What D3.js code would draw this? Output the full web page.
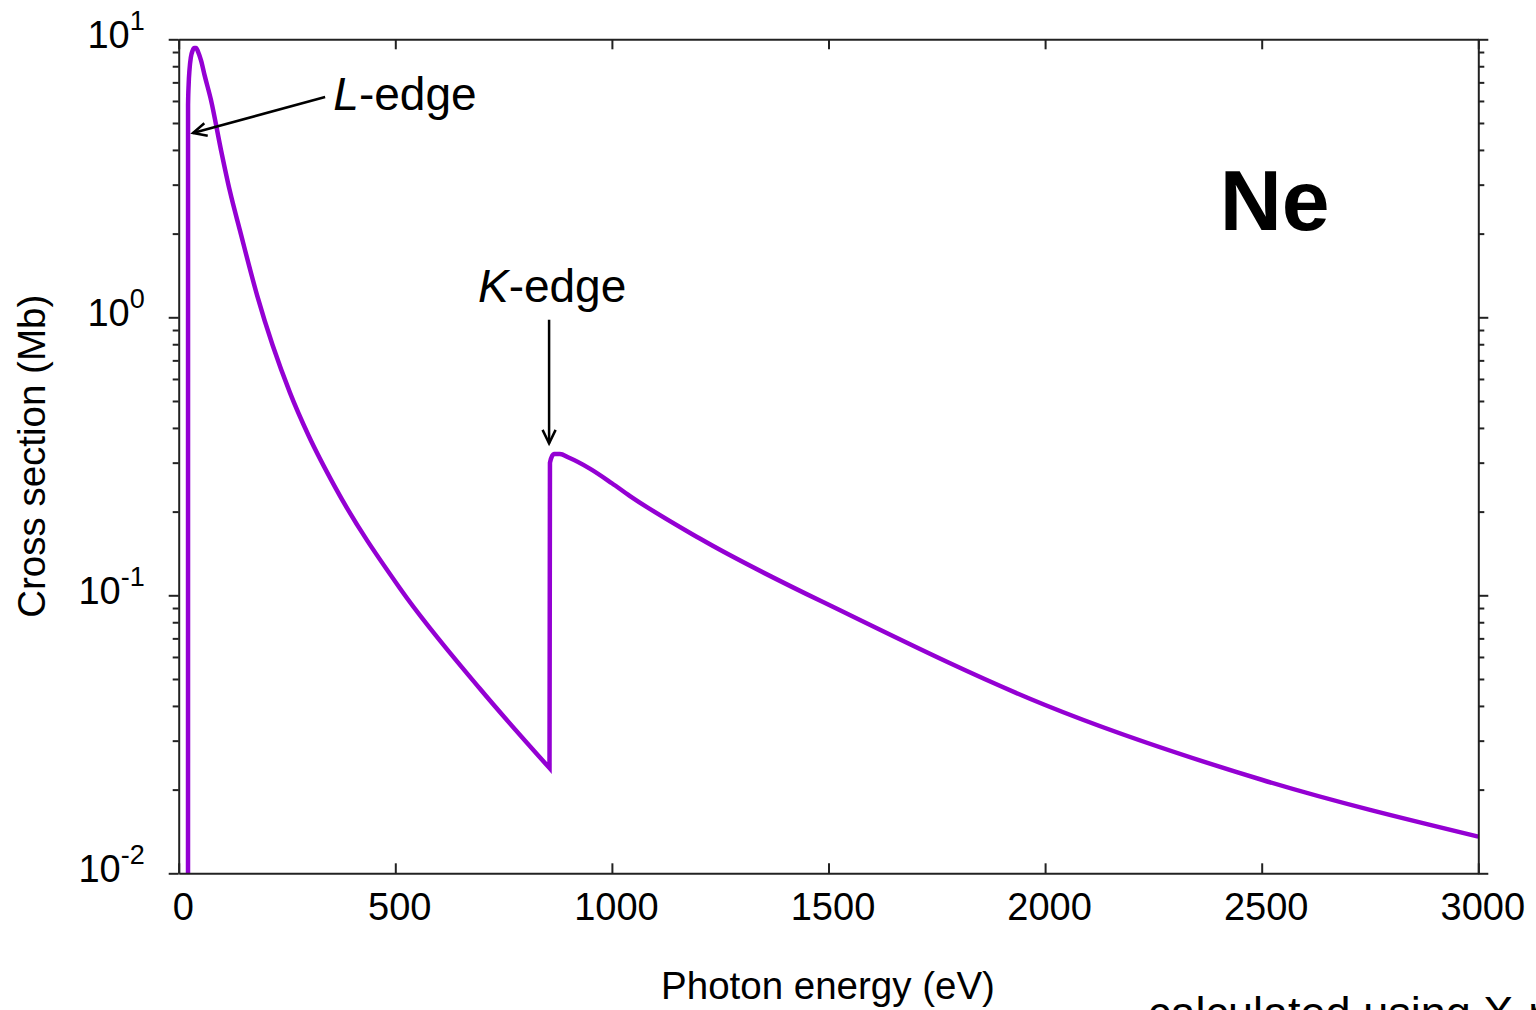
<!DOCTYPE html>
<html lang="en">
<head>
    <meta charset="UTF-8">
    <title>Ne cross section</title>
    <style>
body {
    margin: 0;
    background-color: white;
    overflow: hidden;
}

svg text {
    font-family: "Liberation Sans", Arial, Helvetica, sans-serif;
    fill: black;
}

.axis path,
.axis line {
    stroke: #222;
    stroke-width: 2px;
}
    </style>
</head>
<body>
    <svg id="chart"></svg>
    <script src="https://d3js.org/d3.v7.min.js"></script>
    <script>
// photon energy (eV) and cross section (Mb)
// below the K-edge
const energyL = [21.5, 21.6, 23, 25, 28, 32, 36, 40, 45, 51.5, 60, 74.5, 97.6, 118, 141.5, 181, 257, 300, 361, 511, 695, 856];
const sigmaL = [0.008, 5.8, 6.9, 7.8, 8.6, 9.1, 9.3, 9.3, 9.0, 8.4, 7.4, 6.05, 4.0, 2.85, 2.05, 1.2, 0.535, 0.375, 0.245, 0.1058, 0.0462, 0.0239];
// from the K-edge up
const energyK = [856, 857, 866, 880, 900, 950, 1000, 1041, 1203, 1549, 2000, 2500, 3000];
const sigmaK = [0.0239, 0.30, 0.322, 0.322, 0.313, 0.285, 0.253, 0.228, 0.16, 0.0849, 0.0403, 0.0217, 0.01355];

const xTicks = [0, 500, 1000, 1500, 2000, 2500, 3000];
const yMajor = [0.01, 0.1, 1, 10];
const yExponents = ["-2", "-1", "0", "1"];

// annotations (data units)
const edges = [
    { name: "L", from: [338, 6.2], to: [33, 4.6], text: [357, 5.57], anchor: "start" },
    { name: "K", from: [855, 0.98], to: [855, 0.352], text: [862, 1.135], anchor: "middle" }
];

const W = 1536, H = 1010;
const svg = d3.select("#chart").attr("width", W).attr("height", H);

const x = d3.scaleLinear().domain([0, 3000]).range([178.7, 1478.3]);
const y = d3.scaleLog().domain([0.01, 10]).range([873.3, 39.3]);

// minor log ticks 2..9 per decade
const yMinor = [];
yMajor.slice(0, -1).forEach(d => { for (let k = 2; k <= 9; k++) yMinor.push(d * k); });

// clip
svg.append("defs").append("clipPath").attr("id", "plotclip")
    .append("rect")
    .attr("x", x(0)).attr("y", y(10))
    .attr("width", x(3000) - x(0)).attr("height", y(0.01) - y(10));

// curve, two smooth pieces joined at the K-edge minimum
const line = d3.line()
    .x(d => x(d[0]))
    .y(d => y(d[1]))
    .curve(d3.curveMonotoneX);
const partL = energyL.map((e, i) => [e, sigmaL[i]]);
const partK = energyK.map((e, i) => [e, sigmaK[i]]);

svg.append("path")
    .attr("clip-path", "url(#plotclip)")
    .attr("fill", "none")
    .attr("stroke", "#9400d3")
    .attr("stroke-width", 4.5)
    .attr("stroke-linejoin", "miter")
    .attr("d", line(partL) + line(partK).replace(/^M/, "L"));

// x axes (ticks inside)
const gBottom = svg.append("g").attr("class", "axis")
    .attr("transform", `translate(0,${y(0.01)})`)
    .call(d3.axisBottom(x).tickValues(xTicks).tickSizeInner(-10).tickSizeOuter(0).tickPadding(20).tickFormat(d3.format("d")));
gBottom.selectAll("text")
    .attr("dx", 4)
    .attr("font-size", 38)
    .style("font-family", "'Liberation Sans', Arial, sans-serif");

svg.append("g").attr("class", "axis")
    .attr("transform", `translate(0,${y(10)})`)
    .call(d3.axisTop(x).tickValues(xTicks).tickSizeInner(-10).tickSizeOuter(0).tickFormat(""));

// y axes (ticks outside)
function yAxes(axisFn, xpos, labels) {
    const g = svg.append("g").attr("class", "axis")
        .attr("transform", `translate(${xpos},0)`);
    g.call(axisFn(y).tickValues(yMajor).tickSize(10).tickSizeOuter(0).tickFormat(""));
    g.append("g").call(axisFn(y).tickValues(yMinor).tickSize(6).tickSizeOuter(0).tickFormat(""))
        .select(".domain").remove();
    if (labels) {
        yMajor.forEach((d, i) => {
            const t = g.append("text")
                .attr("x", -34)
                .attr("y", y(d) + 9)
                .attr("text-anchor", "end")
                .attr("font-size", 38)
                .style("font-family", "'Liberation Sans', Arial, sans-serif");
            t.append("tspan").text("10");
            t.append("tspan").attr("dy", -18).attr("font-size", 27).text(yExponents[i]);
        });
    }
}
yAxes(d3.axisLeft, x(0), true);
yAxes(d3.axisRight, x(3000), false);

// axis titles
svg.append("text")
    .attr("x", 828).attr("y", 999)
    .attr("text-anchor", "middle")
    .attr("font-size", 38.5)
    .text("Photon energy (eV)");

svg.append("text")
    .attr("transform", `translate(45,${(y(10) + y(0.01)) / 2}) rotate(-90)`)
    .attr("text-anchor", "middle")
    .attr("font-size", 38.5)
    .text("Cross section (Mb)");

// element label
svg.append("text")
    .attr("x", x(2403)).attr("y", y(2.06))
    .attr("font-size", 86)
    .attr("font-weight", "bold")
    .text("Ne");

// edge arrows
edges.forEach(e => {
    const x1 = x(e.from[0]), y1 = y(e.from[1]);
    const x2 = x(e.to[0]), y2 = y(e.to[1]);
    const ang = Math.atan2(y2 - y1, x2 - x1);
    const len = 15, spread = 0.45;
    svg.append("line")
        .attr("x1", x1).attr("y1", y1).attr("x2", x2).attr("y2", y2)
        .attr("stroke", "black").attr("stroke-width", 2.5);
    svg.append("path")
        .attr("fill", "none").attr("stroke", "black").attr("stroke-width", 2.5)
        .attr("d", `M${x2 - len * Math.cos(ang - spread)},${y2 - len * Math.sin(ang - spread)}L${x2},${y2}L${x2 - len * Math.cos(ang + spread)},${y2 - len * Math.sin(ang + spread)}`);
    const t = svg.append("text")
        .attr("x", x(e.text[0])).attr("y", y(e.text[1]))
        .attr("text-anchor", e.anchor)
        .attr("font-size", 46);
    t.append("tspan").attr("font-style", "italic").text(e.name);
    t.append("tspan").text("-edge");
});

// credit line, partly off the page as in the original
svg.append("text")
    .attr("x", 1148).attr("y", 1028)
    .attr("font-size", 45)
    .text("calculated using X-ray data");
    </script>
</body>
</html>
